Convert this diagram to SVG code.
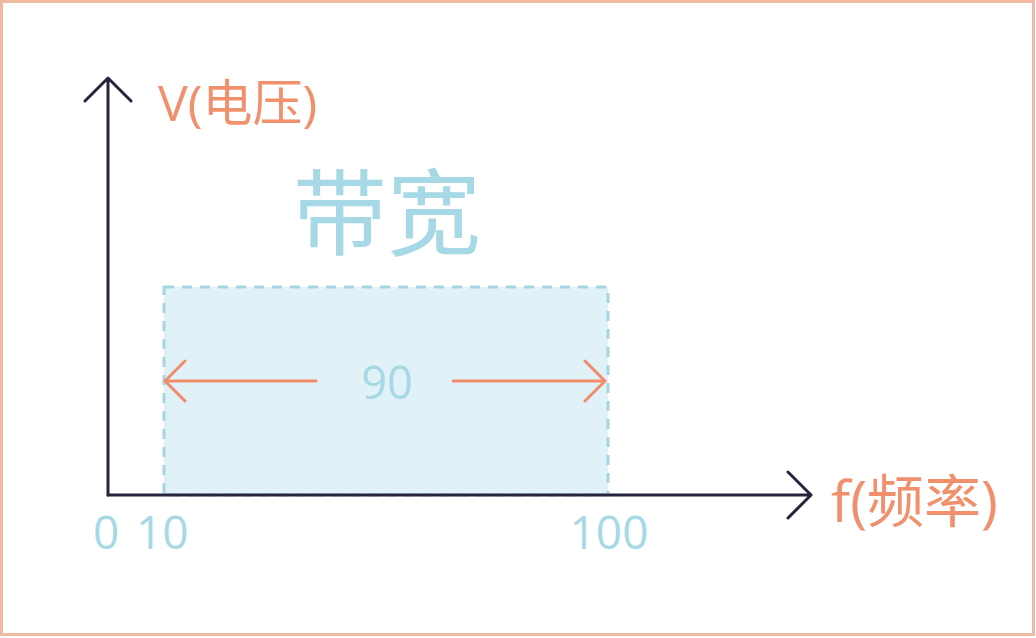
<svg xmlns="http://www.w3.org/2000/svg" width="1036" height="638" viewBox="0 0 1036 638">
<style>
.axis{fill:none;stroke:#25253d;stroke-width:3;stroke-linecap:round;stroke-linejoin:round}
.dim{fill:none;stroke:#f08c6a;stroke-width:3;stroke-linecap:round;stroke-linejoin:round}
.lbl{font-family:"Open Sans","Noto Sans CJK SC",sans-serif;fill:#f0906c}
.num{font-family:"Open Sans","Noto Sans CJK SC",sans-serif;fill:#a6d9e5}
</style>
<rect x="1.5" y="1.5" width="1032" height="633" fill="#ffffff" stroke="#efb9a2" stroke-width="3"/>
<g id="band">
<rect x="164" y="287" width="444" height="208" fill="#e0f2f8" stroke="#a6d6e2" stroke-width="3" stroke-dasharray="10,8"/>
</g>
<g id="connectors">
<path class="axis" d="M108 495V78M85 101L108 78L131 101"/>
<path class="axis" d="M108 495H811M788 472L811 495L788 518"/>
<path class="dim" d="M316 381H165M185 361L165 381L185 401"/>
<path class="dim" d="M453 381H605M585 361L605 381L585 401"/>
</g>
<g id="title"><text class="num" x="387" y="248" font-size="94" text-anchor="middle">带宽</text></g>
<g id="ylabel"><text class="lbl" x="158" y="121" font-size="50">V(电压)</text></g>
<g id="xlabel"><text class="lbl" x="831" y="522" font-size="57">f(频率)</text></g>
<g id="width"><text class="num" x="387" y="399" font-size="45" text-anchor="middle">90</text></g>
<g id="ticks">
<text class="num" x="93" y="549" font-size="46">0</text>
<text class="num" x="136" y="549" font-size="46">10</text>
<text class="num" x="609" y="549" font-size="46" text-anchor="middle">100</text>
</g>
</svg>
